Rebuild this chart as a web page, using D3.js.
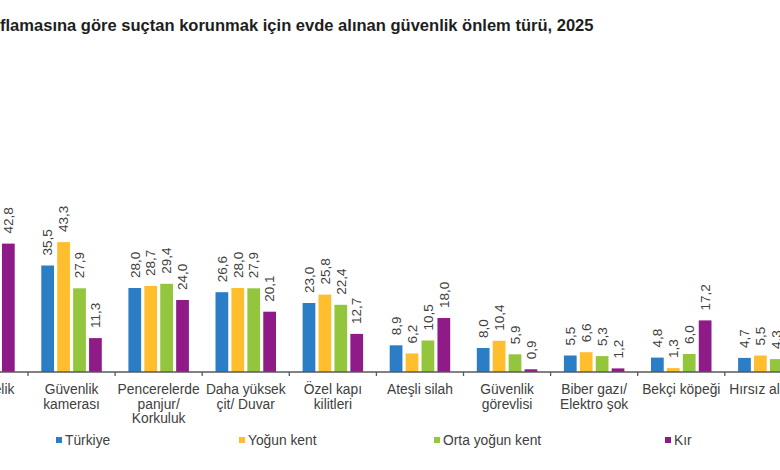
<!DOCTYPE html>
<html>
<head>
<meta charset="utf-8">
<script src="https://cdn.jsdelivr.net/npm/d3@7"></script>
<style>
  html, body { margin: 0; padding: 0; background: #fff; }
  svg { display: block; font-family: "Liberation Sans", Arial, sans-serif; }
</style>
</head>
<body>
<svg id="chart" width="780" height="470"></svg>
<script>
// ---- data ----
const titlePrefix = "Yerleşim yeri sını";
const titleMain = "flamasına göre suçtan korunmak için evde alınan güvenlik önlem türü, 2025";
const categories = [
  "Kilitli çelik",
  "Güvenlik\nkamerası",
  "Pencerelerde\npanjur/\nKorkuluk",
  "Daha yüksek\nçit/ Duvar",
  "Özel kapı\nkilitleri",
  "Ateşli silah",
  "Güvenlik\ngörevlisi",
  "Biber gazı/\nElektro şok",
  "Bekçi köpeği",
  "Hırsız alarmı"
];
const seriesNames = ["Türkiye", "Yoğun kent", "Orta yoğun kent", "Kır"];
const turkiye   = [46.0, 35.5, 28.0, 26.6, 23.0,  8.9,  8.0, 5.5,  4.8, 4.7];
const yogunKent = [47.5, 43.3, 28.7, 28.0, 25.8,  6.2, 10.4, 6.6,  1.3, 5.5];
const ortaYogun = [46.5, 27.9, 29.4, 27.9, 22.4, 10.5,  5.9, 5.3,  6.0, 4.3];
const kir       = [42.8, 11.3, 24.0, 20.1, 12.7, 18.0,  0.9, 1.2, 17.2, 2.5];
const seriesValues = [turkiye, yogunKent, ortaYogun, kir];
const colors = ["#2B7EC6", "#FFBE2E", "#93C63D", "#8E1B88"];

// ---- layout ----
const svg = d3.select("#chart");
const textColor = "#404040";
const baseY = 372;
const band = 87.1;
const firstLeft = 28 - band;

const x0 = d3.scaleBand().domain(categories)
  .range([firstLeft, firstLeft + band * categories.length])
  .paddingInner(0).paddingOuter(0);
const x1 = d3.scaleBand().domain(seriesNames)
  .range([13.3, band - 13.3]).paddingInner(0.2).paddingOuter(0);
const y = d3.scaleLinear().domain([0, 50]).range([baseY, baseY - 150]);

// title: the visible part spans x 0..594
const probe = svg.append("text").attr("font-size", 14).attr("font-weight", "bold").text(titleMain);
const mainW = probe.node().getComputedTextLength();
probe.remove();
const titleSize = 14 * 594 / mainW;
const tt = svg.append("text")
  .attr("y", 31)
  .attr("font-size", titleSize).attr("font-weight", "bold")
  .attr("fill", "#1e1e1e");
const pre = tt.append("tspan").text(titlePrefix);
tt.append("tspan").text(titleMain);
const preW = pre.node().getComputedTextLength();
tt.attr("x", -preW);

// bars
const rows = categories.map((c, i) => ({
  cat: c,
  vals: seriesNames.map((s, j) => ({ s, j, v: seriesValues[j][i] }))
}));

const groups = svg.append("g").selectAll("g").data(rows).join("g")
  .attr("transform", d => `translate(${x0(d.cat)},0)`);

groups.selectAll("rect").data(d => d.vals).join("rect")
  .attr("x", d => x1(d.s))
  .attr("width", x1.bandwidth())
  .attr("y", d => y(d.v))
  .attr("height", d => y(0) - y(d.v))
  .attr("fill", d => colors[d.j]);

const fmt = v => d3.format(".1f")(v).replace(".", ",");
groups.selectAll("text.val").data(d => d.vals).join("text")
  .attr("class", "val")
  .attr("transform", d => `translate(${x1(d.s) + x1.bandwidth() / 2},${y(d.v) - 10}) rotate(-90)`)
  .attr("dy", "0.35em")
  .attr("text-anchor", "start")
  .attr("font-size", 13.5)
  .attr("fill", textColor)
  .text(d => fmt(d.v));

// axis
const axis = d3.axisBottom(x0).tickSize(0).tickPadding(0).tickSizeOuter(0);
const ag = svg.append("g").attr("transform", `translate(0,${baseY})`).call(axis);
ag.select(".domain").remove();
ag.append("line").attr("x1", 0).attr("x2", 780).attr("y1", 0).attr("y2", 0)
  .attr("stroke", "#595959").attr("stroke-width", 1.3);
ag.selectAll(".tick text").each(function(d) {
  const t = d3.select(this);
  const lines = d.split("\n");
  t.text(null)
    .attr("font-size", 13.8)
    .attr("fill", textColor)
    .attr("font-family", "\"Liberation Sans\", Arial, sans-serif")
    .attr("y", 0).attr("dy", null);
  lines.forEach((ln, k) => {
    t.append("tspan").attr("x", 0).attr("y", 22 + k * 14.5).text(ln);
  });
});
// boundary ticks
ag.append("g").selectAll("line")
  .data(categories.slice(1))
  .join("line")
  .attr("x1", d => x0(d)).attr("x2", d => x0(d))
  .attr("y1", 0).attr("y2", 4)
  .attr("stroke", "#595959").attr("stroke-width", 1.3);

// legend
const legendX = [56, 239, 434, 665];
const lg = svg.append("g").selectAll("g").data(seriesNames).join("g")
  .attr("transform", (d, i) => `translate(${legendX[i]},440)`);
lg.append("rect").attr("x", 0).attr("y", -3).attr("width", 6).attr("height", 6)
  .attr("fill", (d, i) => colors[i]);
lg.append("text").attr("x", 9).attr("y", 5)
  .attr("font-size", 13.8).attr("fill", textColor)
  .text(d => d);
</script>
</body>
</html>
